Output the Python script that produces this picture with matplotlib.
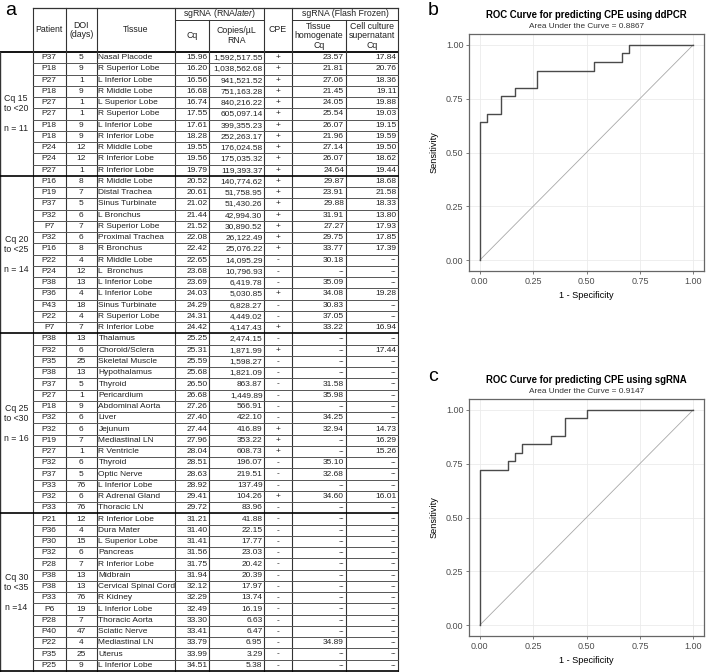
import numpy as np
import matplotlib.pyplot as plt

plt.rcParams['font.family'] = ['Liberation Sans', 'DejaVu Sans']
plt.rcParams['mathtext.fontset'] = 'custom'
plt.rcParams['mathtext.rm'] = 'Liberation Sans'
plt.rcParams['mathtext.it'] = 'Liberation Sans:italic'

# ---- table data (panel a) ----
group_labels = ["Cq 15\nto <20\n\nn = 11", "Cq 20\nto <25\n\nn = 14",
                "Cq 25\nto <30\n\nn = 16", "Cq 30\nto <35\n\nn =14"]
group_sizes = [11, 14, 16, 14]

patients = ["P37", "P18", "P27", "P18", "P27", "P27", "P18", "P18", "P24", "P24", "P27",
            "P16", "P19", "P37", "P32", "P7", "P32", "P16", "P22", "P24", "P38", "P36", "P43", "P22", "P7",
            "P38", "P32", "P35", "P38", "P37", "P27", "P18", "P32", "P32", "P19", "P27", "P32", "P37", "P33", "P32", "P33",
            "P21", "P36", "P30", "P32", "P28", "P38", "P38", "P33", "P6", "P28", "P40", "P22", "P35", "P25"]
doi = [5, 9, 1, 9, 1, 1, 9, 9, 12, 12, 1,
       8, 7, 5, 6, 7, 6, 8, 4, 12, 13, 4, 18, 4, 7,
       13, 6, 25, 13, 5, 1, 9, 6, 6, 7, 1, 6, 5, 76, 6, 76,
       12, 4, 15, 6, 7, 13, 13, 76, 19, 7, 47, 4, 25, 9]
tissues = ["Nasal Placode", "R Superior Lobe", "L Inferior Lobe", "R Middle Lobe", "L Superior Lobe",
           "R Superior Lobe", "L Inferior Lobe", "R Inferior Lobe", "R Middle Lobe", "R Inferior Lobe",
           "R Inferior Lobe",
           "R Middle Lobe", "Distal Trachea", "Sinus Turbinate", "L Bronchus", "R Superior Lobe",
           "Proximal Trachea", "R Bronchus", "R Middle Lobe", "L  Bronchus", "L Inferior Lobe",
           "L Inferior Lobe", "Sinus Turbinate", "R Superior Lobe", "R Inferior Lobe",
           "Thalamus", "Choroid/Sclera", "Skeletal Muscle", "Hypothalamus", "Thyroid", "Pericardium",
           "Abdominal Aorta", "Liver", "Jejunum", "Mediastinal LN", "R Ventricle", "Thyroid",
           "Optic Nerve", "L Inferior Lobe", "R Adrenal Gland", "Thoracic LN",
           "R Inferior Lobe", "Dura Mater", "L Superior Lobe", "Pancreas", "R Inferior Lobe",
           "Midbrain", "Cervical Spinal Cord", "R Kidney", "L Inferior Lobe", "Thoracic Aorta",
           "Sciatic Nerve", "Mediastinal LN", "Uterus", "L Inferior Lobe"]
cq_rnalater = [15.96, 16.20, 16.56, 16.68, 16.74, 17.55, 17.61, 18.28, 19.55, 19.56, 19.79,
               20.52, 20.61, 21.02, 21.44, 21.52, 22.08, 22.42, 22.65, 23.68, 23.69, 24.03, 24.29, 24.31, 24.42,
               25.25, 25.31, 25.59, 25.68, 26.50, 26.68, 27.26, 27.40, 27.44, 27.96, 28.04, 28.51, 28.63,
               28.92, 29.41, 29.72,
               31.21, 31.40, 31.41, 31.56, 31.75, 31.94, 32.12, 32.29, 32.49, 33.30, 33.41, 33.79, 33.99, 34.51]
copies = [1592517.55, 1038562.68, 941521.52, 751163.28, 840216.22, 605097.14, 399355.23, 252263.17,
          176024.58, 175035.32, 119393.37,
          140774.62, 51758.95, 51430.26, 42994.30, 30890.52, 26122.49, 25076.22, 14095.29, 10796.93,
          6419.78, 5030.85, 6828.27, 4449.02, 4147.43,
          2474.15, 1871.99, 1598.27, 1821.09, 863.87, 1449.89, 566.91, 422.10, 416.89, 353.22, 608.73,
          196.07, 219.51, 137.49, 104.26, 83.96,
          41.88, 22.15, 17.77, 23.03, 20.42, 20.39, 17.97, 13.74, 16.19, 6.63, 6.47, 6.95, 3.29, 5.38]
cpe_by_group = ["+++++++++++",
                "+++++++---+--+",
                "-+------+++---+-",
                "--------------"]
cpe = list("".join(cpe_by_group))
cq_homogenate = [23.57, 21.81, 27.06, 21.45, 24.05, 25.54, 26.07, 21.96, 27.14, 26.07, 24.64,
                 29.87, 23.91, 29.88, 31.91, 27.27, 29.75, 33.77, 30.18, None, 35.09, 34.08, 30.83, 37.05, 33.22,
                 None, None, None, None, 31.58, 35.98, None, 34.25, 32.94, None, None, 35.10, 32.68, None,
                 34.60, None,
                 None, None, None, None, None, None, None, None, None, None, None, 34.89, None, None]
cq_supernatant = [17.84, 20.76, 18.36, 19.11, 19.88, 19.03, 19.15, 19.59, 19.50, 18.62, 19.44,
                  18.68, 21.58, 18.33, 13.80, 17.93, 17.85, 17.39, None, None, None, 19.28, None, None, 16.94,
                  None, 17.44, None, None, None, None, None, None, 14.73, 16.29, 15.26, None, None, None,
                  16.01, None] + [None] * 14

# ---- ROC data (panel b): corners of the ddPCR curve, as counts of FP / TP ----
ddpcr_fp = [0, 0, 1, 1, 3, 3, 5, 5, 8, 8, 16, 16, 20, 20, 21, 21, 30]
ddpcr_tp = [0, 16, 16, 17, 17, 19, 19, 20, 20, 22, 22, 23, 23, 24, 24, 25, 25]
n_neg, n_pos = 30, 25

W, H = 707, 672
fig = plt.figure(figsize=(W / 100, H / 100), dpi=100)

# ---------------- panel a: the table ----------------
tab = fig.add_axes([0, 0, 1, 1])
tab.set_xlim(0, W)
tab.set_ylim(H, 0)
tab.axis('off')

cols = [0, 32.5, 66, 96.5, 175, 209, 264, 292, 346, 398]
head_top, head_mid, head_bot = 8, 19.5, 52
n_rows = len(patients)
row_h = (671 - head_bot) / n_rows
bottom = head_bot + n_rows * row_h
line_c = '#333333'

# header box
tab.plot([cols[1], cols[-1]], [head_top, head_top], color=line_c, lw=0.9)
tab.plot([cols[4], cols[6]], [head_mid, head_mid], color=line_c, lw=0.7)
tab.plot([cols[7], cols[9]], [head_mid, head_mid], color=line_c, lw=0.7)
tab.plot([cols[0], cols[-1]], [head_bot, head_bot], color='black', lw=1.3)
tab.plot([cols[0], cols[0]], [head_bot, bottom], color=line_c, lw=1.0)
for i, x in enumerate(cols[1:], start=1):
    y0 = head_mid if i in (5, 8) else head_top
    tab.plot([x, x], [y0, bottom], color=line_c, lw=0.8)

# row lines and group separators
bounds = np.cumsum(group_sizes)
for r in range(1, n_rows + 1):
    y = head_bot + r * row_h
    if r in bounds:
        tab.plot([cols[0], cols[-1]], [y, y], color='black', lw=1.2)
    else:
        tab.plot([cols[1], cols[-1]], [y, y], color='#555555', lw=0.7)

fs_h, fs_b = 6.3, 6.0
hy = (head_top + head_bot) / 2
hy2 = (head_mid + head_bot) / 2
hkw = dict(ha='center', va='center', fontsize=fs_h, color='#222222', linespacing=1.1)
tab.text((cols[1] + cols[2]) / 2, hy, "Patient", **hkw)
tab.text((cols[2] + cols[3]) / 2, hy, "DOI\n(days)", **hkw)
tab.text((cols[3] + cols[4]) / 2, hy, "Tissue", **hkw)
tab.text((cols[4] + cols[6]) / 2, (head_top + head_mid) / 2, r"sgRNA (RNA$\it{later}$)", **hkw)
tab.text((cols[4] + cols[5]) / 2, hy2, "Cq", **hkw)
tab.text((cols[5] + cols[6]) / 2, hy2, "Copies/µL\nRNA", **hkw)
tab.text((cols[6] + cols[7]) / 2, hy, "CPE", **hkw)
tab.text((cols[7] + cols[9]) / 2, (head_top + head_mid) / 2, "sgRNA (Flash Frozen)", **hkw)
tab.text((cols[7] + cols[8]) / 2, hy2, "Tissue\nhomogenate\nCq", **hkw)
tab.text((cols[8] + cols[9]) / 2, hy2, "Cell culture\nsupernatant\nCq", **hkw)

start = 0
for label, n in zip(group_labels, group_sizes):
    yc = head_bot + (start + n / 2) * row_h
    tab.text(cols[1] / 2, yc, label, ha='center', va='center', fontsize=fs_h,
             color='#222222', linespacing=1.15)
    start += n


def fmt(v):
    return "--" if v is None else f"{v:.2f}"


bkw = dict(va='center', fontsize=fs_b, color='#222222')
for i in range(n_rows):
    y = head_bot + (i + 0.5) * row_h
    tab.text((cols[1] + cols[2]) / 2, y, patients[i], ha='center', **bkw)
    tab.text((cols[2] + cols[3]) / 2, y, str(doi[i]), ha='center', **bkw)
    tab.text(cols[3] + 2, y, tissues[i], ha='left', **bkw)
    tab.text(cols[5] - 1.5, y, f"{cq_rnalater[i]:.2f}", ha='right', **bkw)
    tab.text(cols[6] - 1.5, y, f"{copies[i]:,.2f}", ha='right', **bkw)
    tab.text((cols[6] + cols[7]) / 2, y, cpe[i], ha='center', **bkw)
    tab.text(cols[8] - 2, y, fmt(cq_homogenate[i]), ha='right', **bkw)
    tab.text(cols[9] - 1.5, y, fmt(cq_supernatant[i]), ha='right', **bkw)


# ---------------- ROC panels ----------------
def roc_from_scores(scores, labels):
    order = np.argsort(scores)[::-1]
    pos = np.array([labels[k] == '+' for k in order])
    tp = np.concatenate([[0], np.cumsum(pos)])
    fp = np.concatenate([[0], np.cumsum(~pos)])
    return fp / fp[-1], tp / tp[-1]


def style_roc(ax, title, fpr, tpr):
    auc = np.trapezoid(tpr, fpr)
    ax.plot([0, 1], [0, 1], color='#a8a8a8', lw=0.6)
    ax.plot(fpr, tpr, color='#4a4a4a', lw=1.0)
    ax.set_xlim(-0.05, 1.05)
    ax.set_ylim(-0.05, 1.05)
    ticks = [0, 0.25, 0.5, 0.75, 1.0]
    ax.set_xticks(ticks, [f"{t:.2f}" for t in ticks])
    ax.set_yticks(ticks, [f"{t:.2f}" for t in ticks])
    ax.grid(True, color='#ebebeb', lw=0.6)
    ax.set_axisbelow(True)
    for s in ax.spines.values():
        s.set_color('#666666')
        s.set_linewidth(0.9)
    ax.tick_params(length=2.5, width=0.6, color='#666666', labelsize=6.5,
                   labelcolor='#4d4d4d', pad=1.5)
    ax.set_xlabel("1 - Specificity", fontsize=6.6, labelpad=4)
    ax.set_ylabel("Sensitivity", fontsize=6.6, labelpad=5)
    ax.text(0.5, 1.082, title, transform=ax.transAxes, ha='center', va='center',
            fontsize=6.9, fontweight='bold')
    ax.text(0.5, 1.031, f"Area Under the Curve = {auc:.4f}", transform=ax.transAxes,
            ha='center', va='center', fontsize=5.95, color='#333333')


ax_b = fig.add_axes([469 / W, 1 - 271 / H, 235 / W, 237 / H])
style_roc(ax_b, "ROC Curve for predicting CPE using ddPCR",
          np.array(ddpcr_fp) / n_neg, np.array(ddpcr_tp) / n_pos)

ax_c = fig.add_axes([469 / W, 1 - 636 / H, 235 / W, 237 / H])
fpr_c, tpr_c = roc_from_scores(np.array(copies), cpe)
style_roc(ax_c, "ROC Curve for predicting CPE using sgRNA", fpr_c, tpr_c)

fig.text(5 / W, 1 - 15 / H, "a", fontsize=14, va='baseline')
fig.text(428 / W, 1 - 15 / H, "b", fontsize=14, va='baseline')
fig.text(428 / W, 1 - 381 / H, "c", fontsize=14, va='baseline')

fig.savefig("out.png", dpi=100)
